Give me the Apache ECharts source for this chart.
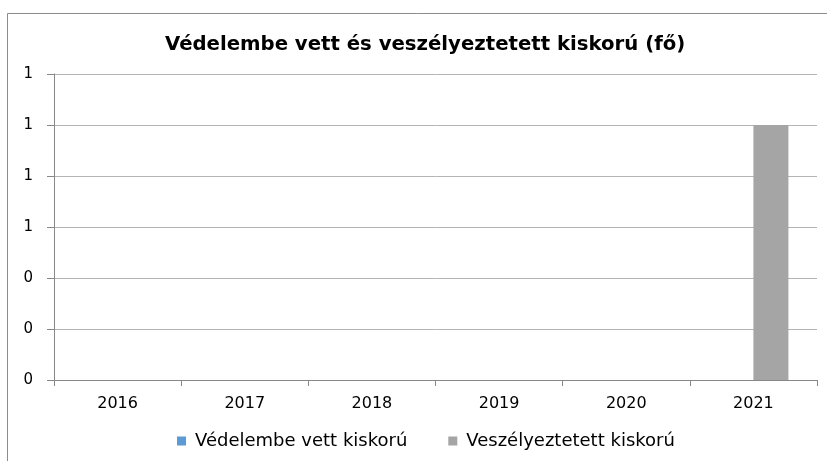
<!DOCTYPE html>
<html><head><meta charset="utf-8">
<script src="https://cdn.jsdelivr.net/npm/echarts@6/dist/echarts.min.js"></script>
<style>html,body{margin:0;padding:0;background:#fff}#c{width:827px;height:461px}</style>
</head><body><div id="c"></div>
<script>
const titleText = 'Védelembe vett és veszélyeztetett kiskorú (fő)';
const categories = ['2016','2017','2018','2019','2020','2021'];
const seriesNames = ['Védelembe vett kiskorú','Veszélyeztetett kiskorú'];
const vedelembe = [0,0,0,0,0,0];
const veszelyeztetett = [0,0,0,0,0,1];
const yMin = 0, yMax = 1.2, yInterval = 0.2;

const chart = echarts.init(document.getElementById('c'), null, {renderer:'canvas'});
chart.setOption({
  animation:false,
  backgroundColor:'#fff',
  graphic:[{type:'rect',shape:{x:7.5,y:13.5,width:840,height:480},style:{fill:'none',stroke:'#8c8c8c',lineWidth:1},silent:true}],
  title:{text:titleText,left:160,top:30,textStyle:{fontFamily:'DejaVu Sans',fontWeight:'bold',fontSize:19.7,color:'#000'}},
  legend:{bottom:6,left:172,itemWidth:9,itemHeight:9,itemGap:41,icon:'rect',
    textStyle:{fontFamily:'DejaVu Sans',fontSize:18,color:'#000',padding:[0,0,0,4]},data:seriesNames},
  grid:{left:54,right:10,top:74,bottom:81,containLabel:false},
  xAxis:{type:'category',data:categories,boundaryGap:true,
    axisLine:{lineStyle:{color:'#888',width:1}},
    axisTick:{show:true,length:6,alignWithLabel:false,lineStyle:{color:'#888'}},
    axisLabel:{fontFamily:'DejaVu Sans',fontSize:16,color:'#000',margin:16}},
  yAxis:{type:'value',min:yMin,max:yMax,interval:yInterval,
    axisLine:{show:true,lineStyle:{color:'#888',width:1}},
    axisTick:{show:true,length:7,lineStyle:{color:'#888'}},
    splitLine:{lineStyle:{color:'#b4b4b4',width:1}},
    axisLabel:{fontFamily:'DejaVu Sans',fontSize:15,color:'#000',margin:21,formatter:v=>String(Math.round(v))}},
  series:[
    {name:seriesNames[0],type:'bar',data:vedelembe,barWidth:35,barGap:'0%',itemStyle:{color:'#5b9bd5'}},
    {name:seriesNames[1],type:'bar',data:veszelyeztetett,barWidth:35,barGap:'0%',itemStyle:{color:'#a5a5a5'}}
  ]
});
</script></body></html>
